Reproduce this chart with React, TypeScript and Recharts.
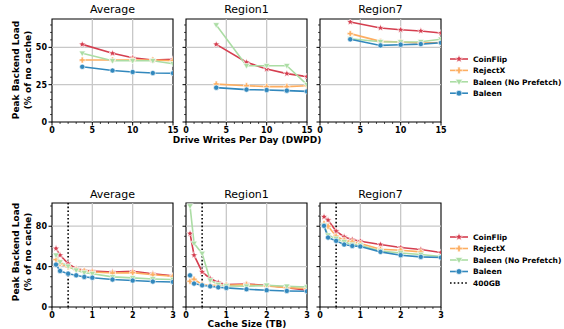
import React from "react";
import { LineChart, Line, XAxis, YAxis, ReferenceLine, ReferenceArea } from "recharts";

// x values
const dwpd = [3.75, 7.5, 10, 12.5, 15];
const cacheTB = [0.1, 0.2, 0.4, 0.6, 0.8, 1.0, 1.5, 2.0, 2.5, 3.0];

// top row: peak backend load vs drive writes per day
const avgDwpdCoinFlip = [52, 46, 43, 41.5, 42];
const avgDwpdRejectX = [41.5, 41.5, 41.5, 41.5, 41];
const avgDwpdNoPrefetch = [46, 41, 41, 41, 39];
const avgDwpdBaleen = [37, 34.5, 33.5, 32.8, 32.7];

const r1DwpdCoinFlip = [52, 40, 35.5, 32.4, 30.4];
const r1DwpdRejectX = [25.4, 24.3, 23.7, 23.7, 24.3];
const r1DwpdNoPrefetch = [65, 37.7, 37.7, 37.7, 25];
const r1DwpdBaleen = [23, 21.7, 21.4, 21, 20.5];

const r7DwpdCoinFlip = [67, 63, 61.8, 61, 59.6];
const r7DwpdRejectX = [59.2, 54, 53.6, 52.9, 53.3];
const r7DwpdNoPrefetch = [55.8, 53.8, 53.6, 53.8, 55.4];
const r7DwpdBaleen = [55.4, 51.3, 51.8, 52.2, 53.1];

// bottom row: peak backend load vs cache size
const avgCacheCoinFlip = [58, 51.3, 43, 38, 36.4, 35.7, 34.7, 35.4, 33, 30.8];
const avgCacheRejectX = [47, 43, 39.7, 37, 35.7, 34.7, 33.7, 34, 32, 30.4];
const avgCacheNoPrefetch = [51.3, 44.6, 40.3, 36.4, 34, 33, 29.8, 28.8, 27.8, 27.2];
const avgCacheBaleen = [42, 35.7, 33, 31.4, 29.8, 29, 27.2, 26.2, 25.2, 24.8];

const r1CacheCoinFlip = [72.8, 51.3, 34.7, 28.2, 24.2, 22.2, 22.8, 21.5, 19.2, 16.6];
const r1CacheRejectX = [25.5, 27.5, 22.2, 21.5, 21.5, 21.5, 22.2, 20.8, 19.2, 18.3];
const r1CacheNoPrefetch = [100, 63, 53, 26.5, 22.2, 20.8, 20.5, 21.5, 20.5, 19.8];
const r1CacheBaleen = [31.4, 23.2, 21.5, 20.5, 19.5, 18.9, 17.6, 16.6, 15.9, 15.6];

const r7CacheCoinFlip = [89.3, 86, 75.1, 69.4, 66.8, 65.2, 61.9, 58.9, 56.9, 54];
const r7CacheRejectX = [82.7, 80, 70.1, 66.2, 64.5, 62.9, 57.2, 56.2, 54.6, null];
const r7CacheNoPrefetch = [81, 71.1, 67.8, 64.5, 61.9, 61.2, 55.5, 53.5, 52, 50];
const r7CacheBaleen = [80.4, 68.8, 65.5, 61.9, 60.5, 59.9, 54.6, 51.3, 49.6, 49];

const seriesNames = ["CoinFlip", "RejectX", "Baleen (No Prefetch)", "Baleen"];
const seriesKeys = ["coinflip", "rejectx", "noprefetch", "baleen"];
const colors = ["#d53e4f", "#fdae61", "#abdda4", "#3288bd"];
const panelTitles = ["Average", "Region1", "Region7"];

const dwpdTicks = [0, 5, 10, 15];
const cacheTicks = [0, 1, 2, 3];
const dwpdLoadTicks = [0, 25, 50];
const cacheLoadTicks = [0, 40, 80];

const FONT = "'DejaVu Sans', sans-serif";

function buildRows(xs: number[], cols: (number | null)[][]) {
  return xs.map((x, i) => {
    const row: any = { x };
    seriesKeys.forEach((k, j) => (row[k] = cols[j][i]));
    return row;
  });
}

const topData = [
  buildRows(dwpd, [avgDwpdCoinFlip, avgDwpdRejectX, avgDwpdNoPrefetch, avgDwpdBaleen]),
  buildRows(dwpd, [r1DwpdCoinFlip, r1DwpdRejectX, r1DwpdNoPrefetch, r1DwpdBaleen]),
  buildRows(dwpd, [r7DwpdCoinFlip, r7DwpdRejectX, r7DwpdNoPrefetch, r7DwpdBaleen]),
];
const bottomData = [
  buildRows(cacheTB, [avgCacheCoinFlip, avgCacheRejectX, avgCacheNoPrefetch, avgCacheBaleen]),
  buildRows(cacheTB, [r1CacheCoinFlip, r1CacheRejectX, r1CacheNoPrefetch, r1CacheBaleen]),
  buildRows(cacheTB, [r7CacheCoinFlip, r7CacheRejectX, r7CacheNoPrefetch, r7CacheBaleen]),
];

function starPath(cx: number, cy: number, r: number) {
  let d = "";
  for (let i = 0; i < 10; i++) {
    const rr = i % 2 === 0 ? r : r * 0.45;
    const a = -Math.PI / 2 + (i * Math.PI) / 5;
    d += (i === 0 ? "M" : "L") + (cx + rr * Math.cos(a)) + "," + (cy + rr * Math.sin(a));
  }
  return d + "Z";
}

function Marker({ kind, cx, cy, color, s = 1 }: any) {
  if (cx == null || cy == null || isNaN(cy)) return null;
  const sw = 0.6;
  if (kind === 0) return <path d={starPath(cx, cy, 3.6 * s)} fill={color} stroke="#fff" strokeWidth={sw} />;
  if (kind === 1) {
    const a = 1.1 * s, b = 3 * s;
    const d = `M${cx - a},${cy - b}H${cx + a}V${cy - a}H${cx + b}V${cy + a}H${cx + a}V${cy + b}H${cx - a}V${cy + a}H${cx - b}V${cy - a}H${cx - a}Z`;
    return <path d={d} fill={color} stroke="#fff" strokeWidth={sw} />;
  }
  if (kind === 2) {
    const r = 3.2 * s;
    const d = `M${cx - r},${cy - r * 0.7}L${cx + r},${cy - r * 0.7}L${cx},${cy + r}Z`;
    return <path d={d} fill={color} stroke="#fff" strokeWidth={sw} />;
  }
  return <circle cx={cx} cy={cy} r={2.6 * s} fill={color} stroke="#fff" strokeWidth={sw} />;
}

const PAD_L = 30;
const PAD_T = 5;
const PAD_R = 12;
const PAD_B = 20;

function Panel({ data, left, top, W, H, xDomain, yDomain, xMajor, xMinorStep, yMajor, yMinorStep, showYLabels, refX }: any) {
  const xTicks: number[] = [];
  for (let v = xDomain[0]; v <= xDomain[1] + 1e-9; v += xMinorStep) xTicks.push(Math.round(v * 1000) / 1000);
  const yTicks: number[] = [];
  for (let v = yDomain[0]; v <= yDomain[1] + 1e-9; v += yMinorStep) yTicks.push(Math.round(v * 1000) / 1000);
  const isMajor = (arr: number[], v: number) => arr.some((m) => Math.abs(m - v) < 1e-6);

  const XTick = (p: any) => {
    const major = isMajor(xMajor, p.payload.value);
    const y0 = PAD_T + H;
    return (
      <g key={"xt" + p.index}>
        <line x1={p.x} x2={p.x} y1={y0} y2={y0 + (major ? 3.5 : 2)} stroke="#000" strokeWidth={major ? 1 : 0.7} />
        {major && (
          <text x={p.x} y={y0 + 11} textAnchor="middle" fontSize={8} fontWeight="bold" fontFamily={FONT} fill="#000">
            {p.payload.value}
          </text>
        )}
      </g>
    );
  };
  const YTick = (p: any) => {
    const major = isMajor(yMajor, p.payload.value);
    return (
      <g key={"yt" + p.index}>
        <line x1={PAD_L - (major ? 3.5 : 2)} x2={PAD_L} y1={p.y} y2={p.y} stroke="#000" strokeWidth={major ? 1 : 0.7} />
        {major && showYLabels && (
          <text x={PAD_L - 5} y={p.y + 3} textAnchor="end" fontSize={8} fontWeight="bold" fontFamily={FONT} fill="#000">
            {p.payload.value}
          </text>
        )}
      </g>
    );
  };

  return (
    <div style={{ position: "absolute", left: left - PAD_L, top: top - PAD_T }}>
      <LineChart width={W + PAD_L + PAD_R} height={H + PAD_T + PAD_B} data={data} margin={{ top: PAD_T, right: PAD_R, left: 0, bottom: 0 }}>
        <XAxis dataKey="x" type="number" domain={xDomain} ticks={xTicks} allowDataOverflow height={PAD_B} axisLine={false} tickLine={false} tickSize={0} tickMargin={0} tick={XTick} interval={0} />
        <YAxis type="number" domain={yDomain} ticks={yTicks} allowDataOverflow width={PAD_L} axisLine={false} tickLine={false} tickSize={0} tickMargin={0} tick={YTick} interval={0} />
        {xMajor.slice(1, -1).map((v: number) => (
          <ReferenceLine key={"gx" + v} x={v} stroke="#c8c8c8" strokeWidth={1.3} />
        ))}
        {yMajor.slice(1).map((v: number) => (
          <ReferenceLine key={"gy" + v} y={v} stroke="#c8c8c8" strokeWidth={1.3} />
        ))}
        {refX != null && <ReferenceLine x={refX} stroke="#000" strokeWidth={1.6} strokeDasharray="1.6 2.2" />}
        {seriesKeys.map((k, i) => (
          <Line
            key={k}
            dataKey={k}
            stroke={colors[i]}
            strokeWidth={1.6}
            isAnimationActive={false}
            dot={(p: any) => <Marker key={k + p.index} kind={i} cx={p.cx} cy={p.cy} color={colors[i]} />}
            activeDot={false}
          />
        ))}
        <ReferenceArea x1={xDomain[0]} x2={xDomain[1]} y1={yDomain[0]} y2={yDomain[1]} fill="none" fillOpacity={0} stroke="#000" strokeWidth={1.1} />
      </LineChart>
    </div>
  );
}

function Legend({ top, step, withRef }: any) {
  const items = seriesNames.map((n, i) => ({ n, i }));
  return (
    <svg style={{ position: "absolute", left: 446, top: top - 6 }} width={118} height={step * 5 + 12}>
      {items.map(({ n, i }) => {
        const y = 6 + i * step;
        return (
          <g key={n}>
            <line x1={4} x2={22} y1={y} y2={y} stroke={colors[i]} strokeWidth={1.6} />
            <Marker kind={i} cx={13} cy={y} color={colors[i]} s={1.1} />
            <text x={27} y={y + 2.7} fontSize={7.5} fontWeight="bold" fontFamily={FONT} fill="#000">
              {n}
            </text>
          </g>
        );
      })}
      {withRef && (
        <g>
          <line x1={4} x2={22} y1={6 + 4 * step} y2={6 + 4 * step} stroke="#000" strokeWidth={1.6} strokeDasharray="1.6 2.2" />
          <text x={27} y={6 + 4 * step + 2.7} fontSize={7.5} fontWeight="bold" fontFamily={FONT} fill="#000">
            400GB
          </text>
        </g>
      )}
    </svg>
  );
}

const panelLefts = [52, 186, 320];
const W = 121;

export default function App() {
  const textStyle: React.CSSProperties = { position: "absolute", fontFamily: FONT, color: "#000", whiteSpace: "nowrap", lineHeight: 1 };
  return (
    <div style={{ position: "absolute", left: 0, top: 0, width: 564, height: 329, background: "#fff", overflow: "hidden" }}>
      {panelTitles.map((t, i) => (
        <div key={"tt" + t} style={{ ...textStyle, left: panelLefts[i], width: W, top: 4, fontSize: 11, textAlign: "center" }}>
          {t}
        </div>
      ))}
      {panelTitles.map((t, i) => (
        <div key={"bt" + t} style={{ ...textStyle, left: panelLefts[i], width: W, top: 189, fontSize: 11, textAlign: "center" }}>
          {t}
        </div>
      ))}
      {topData.map((d, i) => (
        <Panel key={"tp" + i} data={d} left={panelLefts[i]} top={19} W={W} H={103} xDomain={[0, 15]} yDomain={[0, 69]} xMajor={dwpdTicks} xMinorStep={1} yMajor={dwpdLoadTicks} yMinorStep={5} showYLabels={i === 0} />
      ))}
      {bottomData.map((d, i) => (
        <Panel key={"bp" + i} data={d} left={panelLefts[i]} top={203} W={W} H={104} xDomain={[0, 3]} yDomain={[0, 103]} xMajor={cacheTicks} xMinorStep={0.2} yMajor={cacheLoadTicks} yMinorStep={10} showYLabels={i === 0} refX={0.4} />
      ))}
      <div style={{ ...textStyle, left: 0, width: 494, top: 136, fontSize: 9, fontWeight: "bold", textAlign: "center" }}>Drive Writes Per Day (DWPD)</div>
      <div style={{ ...textStyle, left: 0, width: 494, top: 320, fontSize: 9, fontWeight: "bold", textAlign: "center" }}>Cache Size (TB)</div>
      {[70, 252].map((cy) => (
        <svg key={"yl" + cy} style={{ position: "absolute", left: 0, top: cy - 60 }} width={40} height={120}>
          <text transform="translate(19,60) rotate(-90)" textAnchor="middle" fontSize={9} fontWeight="bold" fontFamily={FONT}>
            Peak Backend Load
          </text>
          <text transform="translate(30.5,60) rotate(-90)" textAnchor="middle" fontSize={9} fontWeight="bold" fontFamily={FONT}>
            (% of no cache)
          </text>
        </svg>
      ))}
      <Legend top={59} step={11.4} withRef={false} />
      <Legend top={237} step={11.5} withRef={true} />
    </div>
  );
}
